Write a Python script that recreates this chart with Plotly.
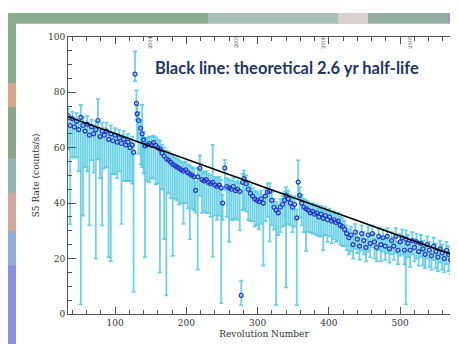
import plotly.graph_objects as go

# Revolution number, S5 rate (counts/s), upper and lower error
rev = [34, 37, 40, 43, 46, 49, 52, 55, 58, 61, 64, 67, 70, 73, 76, 79, 82, 85, 88, 91, 94, 97, 100, 103, 106, 109, 112, 115, 118, 121, 124,
       126, 128, 130, 131, 133, 136, 138, 140, 142, 145, 148, 151, 154, 157, 160, 163, 166, 169, 172, 175, 178, 181, 184, 187, 190, 193, 196, 199,
       202, 205, 208, 211, 213, 216, 219, 222, 225, 228, 231, 234, 237, 240, 243, 246, 249, 251, 254, 257, 260, 263, 266, 269, 272, 275, 277, 279,
       281, 284, 287, 290, 293, 296, 299, 302, 305, 308, 311, 314, 317, 320, 323, 326, 329, 332, 335, 338, 340, 343, 346, 349, 352, 355, 357, 359,
       362, 365, 368, 371, 374, 377, 380, 383, 386, 389, 392, 395, 398, 401, 404, 407, 410, 413, 416, 419, 422, 425, 428, 431, 434, 437, 440, 443,
       446, 449, 452, 455, 458, 461, 464, 467, 470, 473, 476, 479, 482, 485, 488, 491, 494, 497, 500, 503, 506, 508, 511, 514, 517, 520, 523, 526,
       529, 532, 535, 538, 541, 544, 547, 550, 553, 556, 559, 562, 565, 568, 571, 574, 577, 580, 583]
rate = [71.5, 68.0, 70.5, 67.5, 69.5, 66.5, 70.9, 68.0, 66.0, 68.5, 64.5, 67.5, 65.0, 66.5, 69.8, 64.0, 66.0, 64.5, 66.0, 63.0, 65.0, 62.5, 64.5, 62.0, 63.5, 61.5, 63.0, 61.0, 62.0, 60.0, 61.0,
        58.3, 86.5, 76.0, 72.2, 69.8, 67.0, 65.0, 62.8, 60.6, 61.0, 61.5, 61.0, 61.8, 60.8, 60.0, 59.5, 58.0, 57.0, 56.0, 55.5, 54.8, 54.0, 53.5, 53.0, 52.5, 52.0, 51.5, 52.0,
        51.0, 50.5, 50.0, 49.5, 44.6, 49.5, 52.6, 48.5, 48.0, 48.5, 47.5, 47.0, 47.5, 46.5, 46.0, 46.5, 45.5, 40.0, 52.6, 46.0, 45.5, 45.0, 46.0, 44.5, 45.0, 44.2, 6.7, 47.5,
        48.8, 47.0, 45.0, 43.5, 42.5, 41.5, 41.0, 40.5, 41.5, 40.0, 42.5, 44.0, 44.2, 41.0, 38.5, 37.5, 36.5, 38.5, 39.5, 41.0, 42.8, 41.5, 40.0, 38.5, 39.5, 34.7, 47.6, 42.8,
        40.0, 38.5, 38.0, 37.5, 36.5, 37.0, 36.0, 36.5, 35.0, 36.0, 34.5, 35.5, 34.0, 35.0, 33.5, 34.0, 33.0, 33.5, 32.0, 31.5, 30.5, 29.0, 27.5, 28.5, 25.0, 29.5, 27.0, 24.5,
        29.0, 26.5, 24.0, 28.5, 25.5, 29.0, 26.0, 24.0, 28.0, 25.0, 27.5, 24.5, 28.0, 23.5, 26.5, 24.5, 28.0, 23.0, 26.0, 27.5, 23.0, 27.0, 25.5, 23.0, 26.5, 24.0, 26.0, 22.5,
        25.5, 23.5, 21.5, 25.0, 23.0, 21.0, 24.5, 22.5, 20.5, 23.5, 22.0, 20.0, 23.0, 21.5, 19.5, 22.5, 21.0, 20.0, 21.5]
err_up = [2.5, 3, 2.5, 3, 3, 2.5, 4.5, 3, 3, 3, 3, 2.5, 3, 3, 7.7, 3, 3, 2.5, 3, 3, 3, 3, 2.5, 3, 3, 3, 3, 3, 3, 3, 3,
          3, 8.2, 4.7, 3, 3, 3, 10.4, 3, 3, 2.5, 2.5, 3, 2.5, 3, 3, 3, 3, 3, 3, 3, 3, 3, 3, 3, 3, 3, 3, 3,
          3, 3, 3, 3, 3, 3, 4.6, 3, 3, 3, 3, 3, 13.5, 3, 3, 3, 3, 3, 3, 3, 3, 3, 3, 3, 3, 3, 5.3, 3,
          3, 3, 3, 3, 3, 3, 3, 3, 3, 3, 3, 3, 3, 3, 3, 3, 3, 3, 3, 3, 3, 3, 3, 3, 3, 3, 7.8, 3,
          3, 3, 3, 3, 3, 3, 3, 3, 3, 3, 3, 3, 3, 3, 3, 3, 3, 3, 3, 3, 3, 3, 3, 3, 3, 3, 3, 3,
          3, 3, 3, 3, 3, 3, 3, 3, 3, 3, 3, 3, 3, 3, 3, 3, 3, 3, 3, 3, 3, 3.2, 3, 3, 3, 3, 3, 3,
          3, 3, 3, 3, 3, 3, 3, 3, 3, 3, 3, 3, 3, 3, 3, 3, 3, 3, 3]
err_down = [12, 35.7, 14, 11, 13, 15, 67.4, 32.5, 13, 17, 32.5, 12, 14, 46.5, 14, 15, 34, 12, 13, 42.5, 46, 12, 14, 13, 12, 29, 15, 13, 14, 12, 14,
            50.3, 2.5, 6, 10, 12, 13, 12, 12, 40.2, 13, 14, 12, 13, 14, 13, 44.5, 13, 30, 49.3, 12, 13, 33, 12, 12, 13, 12, 19, 12,
            13, 23.5, 12, 12, 8, 33.5, 10, 12, 11, 12, 11, 12, 26.8, 11, 12, 11, 41.6, 6, 8, 11, 19.5, 11, 12, 10, 11, 14, 3.5, 10,
            11, 10, 11, 10, 9, 10, 9, 10, 9, 22.5, 9, 9, 18, 9, 8, 34.3, 8, 9, 8, 9, 33.2, 9, 8, 9, 8, 31.5, 6, 8,
            8, 9, 15.2, 8, 7, 8, 7, 8, 7, 8, 11.5, 7, 8, 7, 8, 7, 7, 7, 7, 7, 6, 6, 6, 6, 5, 6, 5, 5,
            6, 5, 5, 6, 5, 5, 6, 5, 5, 6, 5, 5, 6, 5, 5, 5, 6, 5, 5, 6, 5, 23.5, 5, 6, 5, 5, 6, 5,
            5, 6, 5, 5, 6, 5, 5, 6, 5, 5, 6, 5, 5, 6, 5, 5, 5, 5, 5]

# Theoretical decay line (endpoints)
line_rev = [34, 584]
line_rate = [71.2, 20.4]

year_labels = ["2004", "2005", "2006", "2007"]
year_revs = [149, 270, 391.5, 513.6]

x_ticks = [100, 200, 300, 400, 500]
y_ticks = [0, 20, 40, 60, 80, 100]

W, H = 458, 344
L, R, T, B = 60, 452, 24.5, 310

fig = go.Figure()
fig.add_trace(go.Scatter(
    x=rev, y=rate, mode="markers",
    marker=dict(symbol="circle-open", size=4, color="#2233cc", line=dict(width=1.2, color="#2233cc")),
    error_y=dict(type="data", symmetric=False, array=err_up, arrayminus=err_down,
                 color="rgba(60,195,222,0.75)", thickness=1.8, width=2),
    showlegend=False, hoverinfo="skip"))
fig.add_trace(go.Scatter(x=line_rev, y=line_rate, mode="lines",
                         line=dict(color="black", width=1.5), showlegend=False))

serif = "DejaVu Serif"
axis_common = dict(showline=True, linecolor="#555", linewidth=1, mirror="ticks",
                   ticks="inside", tickcolor="#555", showgrid=False, zeroline=False,
                   tickfont=dict(family=serif, size=9, color="#333"))
fig.update_xaxes(range=[34, 584], domain=[L / W, R / W], tickvals=x_ticks, ticklen=7,
                 minor=dict(dtick=20, tick0=0, ticklen=4, ticks="inside", tickcolor="#555"),
                 title=dict(text="Revolution Number", font=dict(family=serif, size=9, color="#333"), standoff=3),
                 **axis_common)
fig.update_yaxes(range=[0, 100], domain=[(H - B) / H, (H - T) / H], tickvals=y_ticks, ticklen=8,
                 minor=dict(dtick=5, tick0=0, ticklen=4, ticks="inside", tickcolor="#555"),
                 title=dict(text="S5 Rate (counts/s)", font=dict(family=serif, size=9, color="#333"), standoff=6),
                 **axis_common)

def band(x0, x1, y0, y1, color):
    # pixel rectangle (top-left origin) converted to paper coords
    return dict(type="rect", xref="paper", yref="paper", x0=x0 / W, x1=x1 / W,
                y0=(H - y1) / H, y1=(H - y0) / H, fillcolor=color, line_width=0, layer="below")

shapes = [
    band(0, W, 0, H, "#93b09f"),
    # left strip
    band(0, 8, 0, 72, "#8aac8e"),
    band(0, 8, 72, 97, "#d8a48e"),
    band(0, 8, 97, 150, "#86a88c"),
    band(0, 8, 150, 185, "#94b4b4"),
    band(0, 8, 185, 225, "#d3a69a"),
    band(0, 8, 225, 260, "#93acd8"),
    band(0, 8, 260, H, "#8a90dc"),
    # top strip
    band(0, 200, 0, 11, "#8cac8e"),
    band(200, 330, 0, 11, "#a9c0b8"),
    band(330, 360, 0, 11, "#d8d0d0"),
    band(360, 440, 0, 11, "#94aea4"),
    band(440, W, 0, 11, "#9a96e4"),
    # white panel
    band(8, W, 11, H, "white"),
]

annotations = [
    dict(text="<b>Black line: theoretical 2.6 yr half-life</b>", xref="paper", yref="paper",
         x=145 / W, y=(H - 57) / H, xanchor="left", yanchor="middle", showarrow=False,
         font=dict(family="Lato", size=16.5, color="#1f3566")),
]
for lab, r in zip(year_labels, year_revs):
    annotations.append(dict(text=lab, x=r, xref="x", yref="paper", y=(H - 21) / H, yanchor="top",
                            textangle=-90, showarrow=False, font=dict(family=serif, size=5, color="#333")))

fig.update_layout(width=W, height=H, margin=dict(l=0, r=0, t=0, b=0),
                  paper_bgcolor="white", plot_bgcolor="white",
                  shapes=shapes, annotations=annotations)

fig.write_html("out.html")
